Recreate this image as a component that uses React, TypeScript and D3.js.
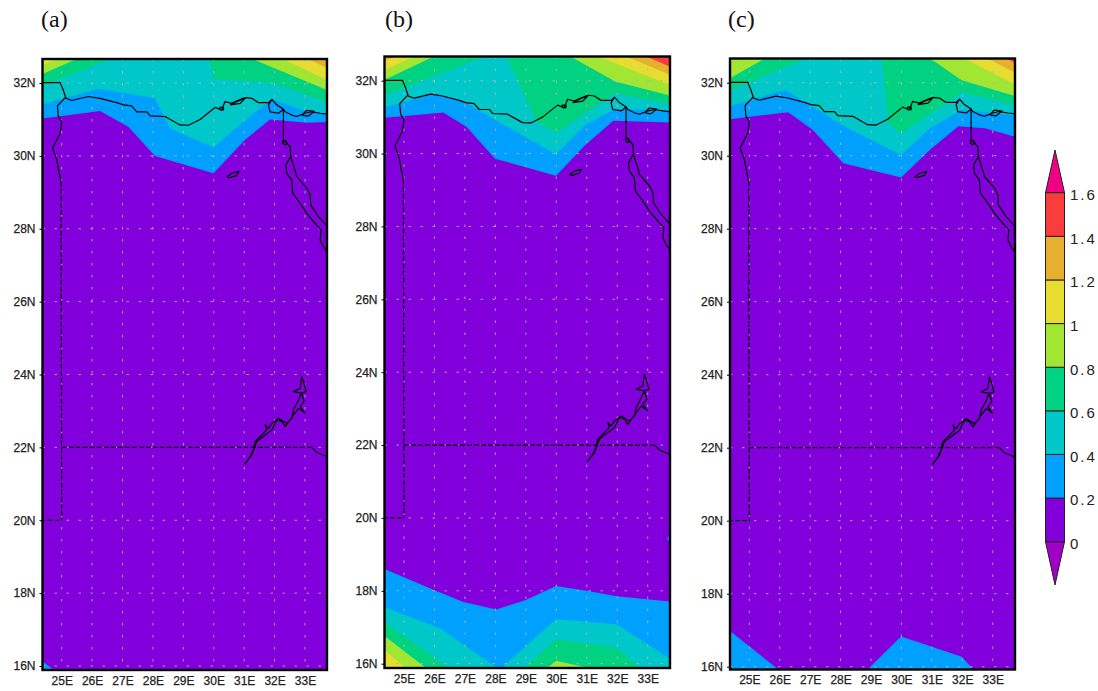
import React, { useEffect, useRef } from "react";
import * as d3 from "d3";

type Pt = [number, number];

// contour levels and the colour of the band above each one
const levels = [0.2, 0.4, 0.6, 0.8, 1, 1.2, 1.4];
const levelColors = ["#00a0ff", "#00c8c8", "#00d282", "#a0e632", "#e6dc32", "#e6af2d", "#fa3c3c"];
const baseColor = "#8200dc";
const legendTicks = [0, 0.2, 0.4, 0.6, 0.8, 1, 1.2, 1.4, 1.6];
const lonTicks = [25, 26, 27, 28, 29, 30, 31, 32, 33];
const latTicks = [16, 18, 20, 22, 24, 26, 28, 30, 32];

// panel a, contour lines read as lon/lat
const a02: Pt[] = [[24.3, 31.02], [24.89, 31.08], [26.26, 31.23], [27.19, 30.8], [28.07, 30], [29.99, 29.52], [31.03, 30.44], [31.85, 31], [33.06, 30.91], [33.8, 30.93]];
const a04: Pt[] = [[24.3, 31.4], [26.21, 31.84], [28.07, 31.58], [28.56, 30.76], [29.99, 30.23], [30.98, 30.94], [31.91, 31.56], [32.9, 31.26], [33.8, 31.15]];
const a06L: Pt[] = [[24.3, 31.9], [26.75, 32.7]];
const a06R: Pt[] = [[29.86, 32.7], [29.99, 32.11], [31.96, 32], [33.8, 31.45]];
const a08L: Pt[] = [[24.3, 32.22], [25.6, 32.7]];
const a08R: Pt[] = [[31.14, 32.7], [33.8, 31.78]];
const a10L: Pt[] = [[24.3, 32.48], [25, 32.7]];
const a10R: Pt[] = [[32.18, 32.7], [33.8, 32.05]];
const a12R: Pt[] = [[33, 32.7], [33.8, 32.38]];
const a02S: Pt[] = [[24.3, 16.18], [24.73, 15.9]];

// panel b
const b02: Pt[] = [[24.3, 30.98], [25.03, 31.03], [26.29, 31.13], [27.06, 30.73], [27.99, 29.86], [29.99, 29.39], [30.94, 30.23], [31.87, 30.9], [33.8, 30.85]];
const b04: Pt[] = [[24.3, 31.25], [26.02, 31.65], [26.89, 31.47], [27.99, 30.92], [29.99, 29.98], [30.94, 30.78], [31.93, 31.22], [33.8, 31.19]];
const b06: Pt[] = [[24.3, 31.57], [27.77, 32.7], [28.35, 32.7], [29.35, 30.87], [29.99, 30.57], [31.93, 31.65], [33.8, 31.34]];
const b08L: Pt[] = [[24.3, 32], [26.07, 32.7]];
const b08R: Pt[] = [[30.39, 32.7], [31.93, 31.98], [33.8, 31.58]];
const b10L: Pt[] = [[24.3, 32.26], [25.42, 32.7]];
const b10R: Pt[] = [[31.27, 32.7], [33.8, 31.86]];
const b12L: Pt[] = [[24.3, 32.52], [24.87, 32.7]];
const b12R: Pt[] = [[32.2, 32.7], [33.8, 32.14]];
const b14R: Pt[] = [[32.86, 32.7], [33.8, 32.36]];
const b02S: Pt[] = [[24.3, 18.62], [25.96, 18.03], [26.95, 17.69], [28.03, 17.49], [28.98, 17.74], [29.99, 18.13], [30.94, 18.01], [31.98, 17.85], [33.8, 17.7]];
const b04S: Pt[] = [[24.3, 17.57], [26.18, 16.97], [28.03, 15.9], [28.22, 15.9], [29.99, 17.22], [31.98, 17.08], [33.8, 16.1]];
const b06SL: Pt[] = [[24.3, 17.18], [26.45, 15.9]];
const b06SR: Pt[] = [[28.98, 15.9], [29.99, 16.67], [31.98, 16.44], [32.74, 15.9]];
const b08SL: Pt[] = [[24.3, 16.8], [25.69, 15.9]];
const b08SR: Pt[] = [[29.74, 15.9], [29.99, 16.08], [30.94, 15.9]];
const b10SL: Pt[] = [[24.3, 16.41], [25.03, 15.9]];
const bSliver: Pt[] = [[33.8, 19.62], [33.64, 19.43], [33.8, 19.24]];

// panel c
const c02: Pt[] = [[24.3, 30.99], [25, 31.07], [26.28, 31.19], [27.1, 30.7], [28.09, 29.79], [29.99, 29.4], [30.94, 30.16], [31.87, 30.81], [32.75, 30.75], [33.8, 30.5]];
const c04: Pt[] = [[24.3, 31.34], [26.17, 31.8], [26.99, 31.39], [28.15, 30.79], [29.99, 30.02], [30.94, 30.75], [31.98, 31.25], [33.8, 31.1]];
const c06L: Pt[] = [[24.3, 31.76], [26.94, 32.7]];
const c06R: Pt[] = [[29.35, 32.7], [29.57, 30.89], [29.99, 30.61], [31.38, 31.39], [31.98, 31.74], [33.8, 31.37]];
const c08L: Pt[] = [[24.3, 32.09], [25.59, 32.7]];
const c08R: Pt[] = [[30.88, 32.7], [31.98, 32.07], [33.8, 31.62]];
const c10R: Pt[] = [[31.98, 32.7], [33.8, 31.92]];
const c12R: Pt[] = [[32.75, 32.7], [33.8, 32.24]];
const c14R: Pt[] = [[33.4, 32.7], [33.8, 32.5]];
const c02SL: Pt[] = [[24.3, 17.02], [25.99, 15.9]];
const c02SR: Pt[] = [[28.86, 15.9], [29.99, 16.83], [31.98, 16.27], [32.39, 15.9]];

// coast, rivers and borders, same for all three maps
const medCoast: Pt[] = [[24.3, 32.01], [24.95, 32.01], [25.05, 31.81], [25.14, 31.58], [25.33, 31.52], [25.88, 31.63], [26.26, 31.58], [26.81, 31.46], [27.03, 31.4], [27.3, 31.37], [27.47, 31.21], [27.8, 31.21], [27.91, 31.1], [28.4, 31.08], [28.89, 30.85], [29.17, 30.84], [29.55, 31], [30.04, 31.33], [30.26, 31.26], [30.37, 31.49], [30.59, 31.44], [30.76, 31.51], [31.03, 31.6], [31.25, 31.58], [31.47, 31.46], [31.8, 31.46], [31.91, 31.55], [31.8, 31.4], [31.85, 31.21], [32.13, 31.17], [32.29, 31.28], [32.35, 31.21], [32.56, 31.12], [32.73, 31.08], [33, 31.17], [33.22, 31.21], [33.5, 31.17], [33.8, 31.14]];
const deltaEdge: Pt[] = [[31.91, 31.55], [32.07, 31.4], [32.29, 31.28]];
const deltaLoop: Pt[] = [[30.2, 31.26], [30.32, 31.26], [30.32, 31.33], [30.2, 31.33], [30.2, 31.26]];
const burullus: Pt[] = [[30.54, 31.4], [30.76, 31.49], [31.03, 31.58], [30.87, 31.44], [30.54, 31.4]];
const bardawil: Pt[] = [[32.9, 31.12], [33.05, 31.25], [33.3, 31.22], [33.1, 31.09], [32.9, 31.12]];
const libyaBorder: Pt[] = [[25.14, 31.62], [24.86, 31.37], [24.89, 31.08], [25, 30.94], [24.95, 30.62], [24.7, 30.21], [24.84, 29.89], [24.92, 29.52], [24.98, 29.29]];
const canalWest: Pt[] = [[32.29, 31.26], [32.29, 30.44], [32.51, 30.25], [32.53, 29.98], [32.37, 29.75], [32.4, 29.52], [32.56, 29.34], [32.6, 28.97], [32.84, 28.7], [33.06, 28.42], [33.33, 28.15], [33.53, 27.97], [33.5, 27.69], [33.6, 27.51], [33.72, 27.37]];
const gulfEast: Pt[] = [[32.53, 29.98], [32.67, 29.61], [32.73, 29.43], [33.06, 29.11], [33.17, 28.93], [33.19, 28.65], [33.44, 28.33], [33.72, 28.08]];
const bitterLake: Pt[] = [[32.27, 30.42], [32.36, 30.42], [32.42, 30.34], [32.33, 30.3], [32.27, 30.36], [32.27, 30.42]];
const qarun: Pt[] = [[30.43, 29.42], [30.6, 29.52], [30.83, 29.57], [30.75, 29.46], [30.5, 29.4], [30.43, 29.42]];
const lakeNasser: Pt[] = [[31.01, 21.53], [31.2, 21.75], [31.3, 21.93], [31.36, 22.16], [31.58, 22.34], [31.74, 22.48], [31.69, 22.62], [31.8, 22.52], [31.91, 22.66], [32.13, 22.8], [32.29, 22.71], [32.4, 22.66], [32.57, 22.8], [32.62, 23.03], [32.79, 23.3], [32.89, 23.49], [32.62, 23.53], [32.84, 23.62], [32.89, 23.94], [32.97, 23.76], [33.04, 23.53], [32.89, 23.49], [32.97, 23.26], [32.84, 23.12], [33, 22.94], [32.79, 23.07], [32.62, 22.89], [32.35, 22.57], [32.24, 22.71], [32.07, 22.75], [31.91, 22.48], [31.63, 22.3], [31.41, 22.16], [31.25, 21.79], [31.01, 21.53]];
const redSeaEdge: Pt[] = [[33.22, 22], [33.39, 21.86], [33.72, 21.75]];
const solidLines = [medCoast, deltaEdge, deltaLoop, burullus, bardawil, libyaBorder, canalWest, gulfEast, bitterLake, qarun, lakeNasser, redSeaEdge];
const dashedLines: Pt[][] = [[[24.98, 29.29], [25, 20]], [[24.3, 20], [25, 20]], [[25, 22], [33.22, 22]]];

type Band = { level: number; side: "n" | "s"; pts: Pt[] };
const band = (level: number, side: "n" | "s", pts: Pt[]): Band => ({ level, side, pts });

const panels = [
  {
    label: "(a)", labelX: 41, frame: [42.5, 59, 327, 670], x: [61.7, 305], y: [83, 666],
    bands: [
      band(0.2, "n", a02), band(0.4, "n", a04), band(0.6, "n", a06L), band(0.6, "n", a06R),
      band(0.8, "n", a08L), band(0.8, "n", a08R), band(1, "n", a10L), band(1, "n", a10R), band(1.2, "n", a12R),
      band(0.2, "s", a02S),
    ],
  },
  {
    label: "(b)", labelX: 385, frame: [384.5, 56.5, 670, 668], x: [404, 647.7], y: [80.7, 663.7],
    bands: [
      band(0.2, "n", b02), band(0.4, "n", b04), band(0.6, "n", b06), band(0.8, "n", b08L), band(0.8, "n", b08R),
      band(1, "n", b10L), band(1, "n", b10R), band(1.2, "n", b12L), band(1.2, "n", b12R), band(1.4, "n", b14R),
      band(0.2, "s", b02S), band(0.2, "s", bSliver), band(0.4, "s", b04S), band(0.6, "s", b06SL), band(0.6, "s", b06SR),
      band(0.8, "s", b08SL), band(0.8, "s", b08SR), band(1, "s", b10SL),
    ],
  },
  {
    label: "(c)", labelX: 728, frame: [730, 58.5, 1015, 669.5], x: [749.3, 992.7], y: [82.7, 666.7],
    bands: [
      band(0.2, "n", c02), band(0.4, "n", c04), band(0.6, "n", c06L), band(0.6, "n", c06R), band(0.8, "n", c08L), band(0.8, "n", c08R),
      band(1, "n", c10R), band(1.2, "n", c12R), band(1.4, "n", c14R),
      band(0.2, "s", c02SL), band(0.2, "s", c02SR),
    ],
  },
];

const color = d3.scaleOrdinal<number, string>().domain(levels).range(levelColors);

function MapPanel({ panel, id }: { panel: (typeof panels)[number]; id: string }) {
  const axisRef = useRef<SVGGElement>(null);
  const [x0, y0, x1, y1] = panel.frame;
  const xScale = d3.scaleLinear().domain([25, 33]).range(panel.x);
  const yScale = d3.scaleLinear().domain([32, 16]).range(panel.y);
  const line = d3.line<Pt>().x((d) => xScale(d[0])).y((d) => yScale(d[1]));

  useEffect(() => {
    const g = d3.select(axisRef.current);
    g.selectAll("*").remove();
    const left = d3.axisLeft(yScale).tickValues(latTicks).tickSize(3).tickPadding(4).tickFormat((d) => `${d}N`);
    const bottom = d3.axisBottom(xScale).tickValues(lonTicks).tickSize(0).tickPadding(6).tickFormat((d) => `${d}E`);
    g.append("g").attr("transform", `translate(${x0},0)`).call(left);
    g.append("g").attr("transform", `translate(0,${y1})`).call(bottom);
    g.selectAll(".domain").remove();
    g.selectAll("text").attr("font-family", "Liberation Sans").attr("font-size", 12).attr("fill", "#222")
      .attr("stroke", "#222").attr("stroke-width", 0.25);
    g.selectAll("line").attr("stroke", "#000");
  }, []);

  return (
    <g>
      <text x={panel.labelX} y={27} fontFamily="Liberation Serif" fontSize={24} fill="#111">{panel.label}</text>
      <clipPath id={id}>
        <rect x={x0} y={y0} width={x1 - x0} height={y1 - y0} />
      </clipPath>
      <g clipPath={`url(#${id})`}>
        <rect x={x0} y={y0} width={x1 - x0} height={y1 - y0} fill={baseColor} />
        {panel.bands.map((b, i) => {
          const edgeLat = b.side === "n" ? 33.5 : 15;
          const closed: Pt[] = [...b.pts, [b.pts[b.pts.length - 1][0], edgeLat], [b.pts[0][0], edgeLat]];
          return <path key={i} d={line(closed) + "Z"} fill={color(b.level)} />;
        })}
        {lonTicks.map((d) => (
          <line key={d} x1={xScale(d)} x2={xScale(d)} y1={y0} y2={y1} stroke="#b8b8a8" strokeOpacity={0.85} strokeDasharray="2.5 9.5" />
        ))}
        {latTicks.map((d) => (
          <line key={d} x1={x0} x2={x1} y1={yScale(d)} y2={yScale(d)} stroke="#b8b8a8" strokeOpacity={0.85} strokeDasharray="2.5 9.5" />
        ))}
        {solidLines.map((l, i) => (
          <path key={i} d={line(l) ?? ""} fill="none" stroke="#000" strokeWidth={1.2} strokeLinejoin="round" />
        ))}
        {dashedLines.map((l, i) => (
          <path key={i} d={line(l) ?? ""} fill="none" stroke="#000" strokeWidth={1.2} strokeDasharray="5 2" />
        ))}
      </g>
      <rect x={x0} y={y0} width={x1 - x0} height={y1 - y0} fill="none" stroke="#000" strokeWidth={2.4} />
      <g ref={axisRef} />
    </g>
  );
}

function Legend() {
  const y = d3.scaleLinear().domain([0, 1.6]).range([541.7, 192.7]);
  const left = 1045.5;
  const right = 1064.5;
  const mid = (left + right) / 2;
  return (
    <g stroke="#222" strokeWidth={1}>
      <path d={`M${left},${y(1.6)}L${mid},150L${right},${y(1.6)}Z`} fill="#f00082" />
      <path d={`M${left},${y(0)}L${mid},585L${right},${y(0)}Z`} fill="#a000c8" />
      <rect x={left} y={y(0.2)} width={right - left} height={y(0) - y(0.2)} fill={baseColor} />
      {levels.map((l) => (
        <rect key={l} x={left} y={y(l + 0.2)} width={right - left} height={y(l) - y(l + 0.2)} fill={color(l)} />
      ))}
      {legendTicks.map((t) => (
        <text key={t} x={1070} y={y(t) + 2} dy="0.36em" stroke="none" fill="#222" fontFamily="Liberation Sans" fontSize={15} letterSpacing={2}>{t}</text>
      ))}
    </g>
  );
}

export default function App() {
  return (
    <svg width={1098} height={691} style={{ position: "absolute", left: 0, top: 0, display: "block", background: "#fff" }}>
      {panels.map((p, i) => <MapPanel key={p.label} panel={p} id={`map-clip-${i}`} />)}
      <Legend />
    </svg>
  );
}
